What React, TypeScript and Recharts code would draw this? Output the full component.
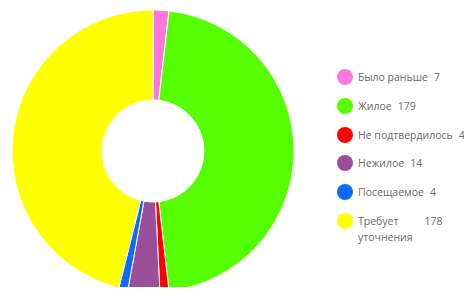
import { PieChart, Pie, Cell, Legend } from 'recharts'

const categories = ['Было раньше', 'Жилое', 'Не подтвердилось', 'Нежилое', 'Посещаемое', 'Требует уточнения']
const legendLabels = ['Было раньше', 'Жилое', 'Не подтвердилось', 'Нежилое', 'Посещаемое', 'Требует\nуточнения']
const counts = [7, 179, 4, 14, 4, 178]
const colors = ['#ff77dd', '#55ff00', '#ff0000', '#9b4f9b', '#0a6cff', '#ffff00']

const data = categories.map((name, i) => ({ name, value: counts[i], label: legendLabels[i] }))

const LegendContent = () => (
  <div style={{ fontFamily: '"Open Sans", sans-serif', fontSize: 10.5, color: '#6a6a6a' }}>
    {data.map((d, i) => (
      <div key={d.name} style={{ display: 'flex', alignItems: 'flex-start', height: 16, marginBottom: i === data.length - 1 ? 0 : 12.8 }}>
        <span style={{ width: 16, height: 16, borderRadius: 8, background: colors[i], flexShrink: 0 }} />
        <span style={{ marginLeft: 5, whiteSpace: 'pre-line', lineHeight: '16px', display: 'inline-block' }}>{d.label}</span>
        <span style={{ marginLeft: d.label.includes('\n') ? 12 : 6, lineHeight: '16px' }}>{d.value}</span>
      </div>
    ))}
  </div>
)

export default function App() {
  return (
    <div style={{ position: 'relative', margin: -8, width: 472, height: 295, background: '#fff' }}>
      <PieChart width={472} height={295} margin={{ top: 0, right: 0, bottom: 0, left: 0 }}>
        <Pie
          data={data}
          dataKey="value"
          nameKey="name"
          cx={153}
          cy={151}
          innerRadius={51}
          outerRadius={141}
          startAngle={90}
          endAngle={-270}
          stroke="#fff"
          strokeWidth={1}
          isAnimationActive={false}
        >
          {data.map((d, i) => (
            <Cell key={d.name} fill={colors[i]} />
          ))}
        </Pie>
        <Legend content={<LegendContent />} wrapperStyle={{ position: 'absolute', left: 337, top: 69, width: 135 }} />
      </PieChart>
    </div>
  )
}
